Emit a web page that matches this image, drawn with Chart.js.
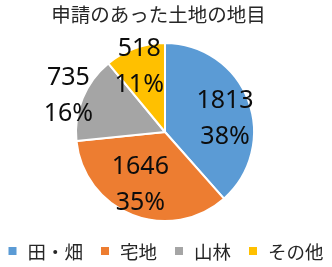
<!DOCTYPE html>
<html>
<head>
    <meta charset="utf-8">
    <title>申請のあった土地の地目</title>
    <script src="https://cdn.jsdelivr.net/npm/chart.js"></script>
    <style>
        html, body { margin: 0; padding: 0; background: #fff; }
        #chart-container { width: 332px; height: 267px; }
    </style>
</head>
<body>
    <div id="chart-container">
        <canvas id="landChart" width="332" height="267"></canvas>
    </div>

    <script>
    // 地目ごとの件数
    const categories = ['田・畑', '宅地', '山林', 'その他'];
    const counts = [1813, 1646, 735, 518];
    const colors = ['#5B9BD5', '#ED7D31', '#A5A5A5', '#FFC000'];
    const chartTitle = '申請のあった土地の地目';

    // ラベル位置の調整（半径比と角度のずれ）
    const labelRadius = [0.69, 0.66, 1.16, 0.79];
    const labelShiftDeg = [8.7, 3.4, -1.6, -1.7];

    const jpFont = "'Noto Sans CJK JP', 'Noto Sans', sans-serif";
    const numFont = "'Noto Sans', 'Liberation Sans', sans-serif";

    // 件数と割合のラベルを描く
    const sliceLabels = {
        id: 'sliceLabels',
        afterDatasetsDraw(chart) {
            const ctx = chart.ctx;
            const meta = chart.getDatasetMeta(0);
            const total = counts.reduce((a, b) => a + b, 0);
            ctx.save();
            ctx.fillStyle = '#0d0d0d';
            ctx.font = '25px ' + numFont;
            ctx.textAlign = 'center';
            ctx.textBaseline = 'middle';
            meta.data.forEach((arc, i) => {
                const p = arc.getProps(['x', 'y', 'startAngle', 'endAngle', 'outerRadius'], true);
                const mid = (p.startAngle + p.endAngle) / 2 + labelShiftDeg[i] * Math.PI / 180;
                const r = p.outerRadius * labelRadius[i];
                const x = p.x + Math.cos(mid) * r;
                const y = p.y + Math.sin(mid) * r;
                const pct = Math.round(counts[i] / total * 100) + '%';
                ctx.fillText(String(counts[i]), x, y - 18);
                ctx.fillText(pct, x, y + 18);
            });
            ctx.restore();
        }
    };

    // タイトルと下の凡例（横一列）
    const titleAndLegend = {
        id: 'titleAndLegend',
        afterDraw(chart) {
            const ctx = chart.ctx;
            ctx.save();
            ctx.fillStyle = '#262626';
            ctx.font = '19.5px ' + jpFont;
            ctx.textAlign = 'center';
            ctx.textBaseline = 'middle';
            ctx.fillText(chartTitle, chart.width / 2 - 7.5, 15);

            const box = 8, gap = 11, itemGap = 18;
            ctx.font = '18.5px ' + jpFont;
            ctx.textAlign = 'left';
            const widths = categories.map(c => ctx.measureText(c).width);
            const total = widths.reduce((a, b) => a + b, 0) + categories.length * (box + gap) + (categories.length - 1) * itemGap;
            let x = (chart.width - total) / 2;
            const y = 251;
            categories.forEach((c, i) => {
                ctx.fillStyle = colors[i];
                ctx.fillRect(x, y - box / 2, box, box);
                ctx.fillStyle = '#262626';
                ctx.fillText(c, x + box + gap, y + 1);
                x += box + gap + widths[i] + itemGap;
            });
            ctx.restore();
        }
    };

    function createChart() {
        const chartCanvas = document.getElementById('landChart');
        new Chart(chartCanvas, {
            type: 'pie',
            data: {
                labels: categories,
                datasets: [{
                    data: counts,
                    backgroundColor: colors,
                    borderColor: '#ffffff',
                    borderWidth: 2
                }]
            },
            options: {
                responsive: false,
                animation: false,
                layout: {
                    padding: { left: 0, right: 2, top: 42, bottom: 45 }
                },
                plugins: {
                    title: { display: false },
                    legend: { display: false },
                    tooltip: { enabled: false }
                }
            },
            plugins: [sliceLabels, titleAndLegend]
        });
    }

    window.onload = () => {
        createChart();
    };
    </script>
</body>
</html>
